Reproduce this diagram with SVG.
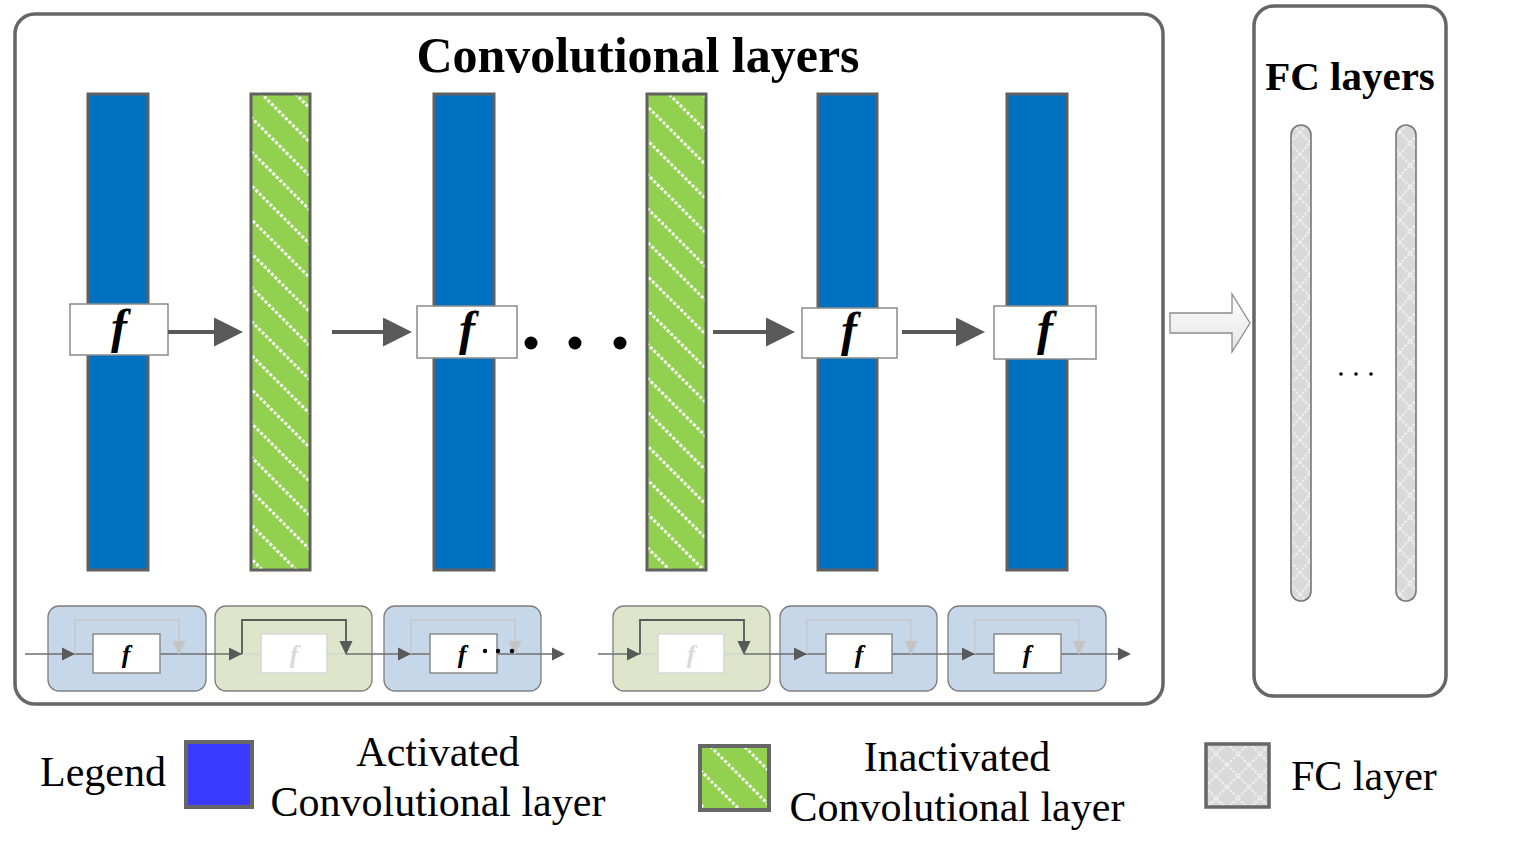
<svg xmlns="http://www.w3.org/2000/svg" xmlns:xlink="http://www.w3.org/1999/xlink" width="1523" height="842" viewBox="0 0 1523 842">
<style>
.frame{fill:#fff;stroke:#666;stroke-width:3.5}
.title{font-family:"Liberation Serif","Times New Roman",serif;font-weight:bold;fill:#000}
.bar{stroke:#606060;stroke-width:3}
.blue{fill:#0070c0}
.green{fill:url(#hatch)}
.fbox{fill:#fff;stroke:#8a8a8a;stroke-width:1.5}
.fbig{font-family:"Liberation Serif","Times New Roman",serif;font-weight:bold;font-style:italic;font-size:48px;text-anchor:middle;fill:#000}
.fsm{font-family:"Liberation Serif","Times New Roman",serif;font-weight:bold;font-style:italic;font-size:26px;text-anchor:middle;fill:#000}
.fsm.faded{fill:#dadada}
.conn{stroke:#595959;stroke-width:4;fill:none}
.ml{stroke:#707070;stroke-width:1.6;fill:none}
.mlf{stroke:#d4d4d4;stroke-width:1.6;fill:none}
.loopl{stroke:#c8c8c8;stroke-width:1.6;fill:none}
.loopd{stroke:#595959;stroke-width:1.8;fill:none}
.ahd{fill:#595959}
.ahl{fill:#c4c4c4}
.bblk{fill:#c5d7e9;stroke:#7f7f7f;stroke-width:1.3}
.gblk{fill:#dfe5cb;stroke:#7f7f7f;stroke-width:1.3}
.fbf{fill:#fff;stroke:#d6d6d6;stroke-width:1.5}
.leg{font-family:"Liberation Serif","Times New Roman",serif;font-size:42px;fill:#000}
.fc{fill:url(#cross);stroke:#777;stroke-width:1.6}
</style>
<defs>
<pattern id="hatch" patternUnits="userSpaceOnUse" width="5" height="24" patternTransform="rotate(45)">
<rect width="5" height="24" fill="#92d050"/>
<rect x="0" y="0" width="3" height="3" fill="#ffffff"/>
</pattern>
<pattern id="cross" patternUnits="userSpaceOnUse" width="20" height="22">
<rect width="20" height="22" fill="#d9d9d9"/>
<path d="M0,0 L20,22 M20,0 L0,22" stroke="#eeeeee" stroke-width="2.4" stroke-dasharray="2.5 1.5"/>
</pattern>
<pattern id="cross2" patternUnits="userSpaceOnUse" width="22" height="22" x="1205" y="743">
<rect width="22" height="22" fill="#d9d9d9"/>
<path d="M0,0 L22,22 M22,0 L0,22" stroke="#eeeeee" stroke-width="2.4" stroke-dasharray="2.5 1.5"/>
</pattern>
<marker id="big" markerUnits="userSpaceOnUse" markerWidth="30" markerHeight="30" refX="19" refY="14.5" orient="auto">
<path d="M0,0 L29,14.5 L0,29 z" fill="#595959"/>
</marker>
<path id="ar" d="M-13,-6.5 L0,0 L-13,6.5 z"/>
<path id="dn" d="M-6.5,-14 L0,0 L6.5,-14 z"/>
<linearGradient id="ga" x1="0" y1="0" x2="0" y2="1">
<stop offset="0" stop-color="#ffffff"/>
<stop offset="1" stop-color="#e4e4e4"/>
</linearGradient>
</defs>

<g id="conv-frame">
<rect class="frame" x="15" y="14" width="1148" height="690" rx="20"/>
<text class="title" x="638" y="72" font-size="50" text-anchor="middle">Convolutional layers</text>
</g>
<g id="fc-frame">
<rect class="frame" x="1254" y="6" width="192" height="690" rx="20"/>
<text class="title" x="1350" y="90" font-size="41" text-anchor="middle">FC layers</text>
</g>

<g id="bar1"><rect class="bar blue" x="88" y="94" width="60" height="476"/></g>
<g id="bar2"><rect class="bar green" x="251" y="94" width="59" height="476"/></g>
<g id="bar3"><rect class="bar blue" x="434" y="94" width="60" height="476"/></g>
<g id="bar4"><rect class="bar green" x="647" y="94" width="59" height="476"/></g>
<g id="bar5"><rect class="bar blue" x="818" y="94" width="59" height="476"/></g>
<g id="bar6"><rect class="bar blue" x="1007" y="94" width="60" height="476"/></g>

<g id="f1"><rect class="fbox" x="70" y="304" width="98" height="51"/><text class="fbig" x="119" y="343">f</text></g>
<g id="f2"><rect class="fbox" x="417" y="306" width="100" height="52"/><text class="fbig" x="467" y="345">f</text></g>
<g id="f3"><rect class="fbox" x="802" y="308" width="95" height="50"/><text class="fbig" x="849" y="346">f</text></g>
<g id="f4"><rect class="fbox" x="994" y="306" width="102" height="53"/><text class="fbig" x="1045" y="345">f</text></g>

<g id="connectors">
<line class="conn" x1="168" y1="332" x2="233" y2="332" marker-end="url(#big)"/>
<line class="conn" x1="332" y1="332" x2="402" y2="332" marker-end="url(#big)"/>
<line class="conn" x1="713" y1="332" x2="785" y2="332" marker-end="url(#big)"/>
<line class="conn" x1="902" y1="332" x2="975" y2="332" marker-end="url(#big)"/>
</g>
<g id="ellipsis">
<circle cx="531" cy="343" r="6.5" fill="#000"/>
<circle cx="575" cy="343" r="6.5" fill="#000"/>
<circle cx="620" cy="343" r="6.5" fill="#000"/>
</g>

<g id="big-arrow">
<path d="M1170,313 H1232 V294 L1250,323 L1232,352 V333 H1170 Z" fill="url(#ga)" stroke="#8c8c8c" stroke-width="1.3"/>
</g>

<g id="fc1"><rect class="fc" x="1291" y="125" width="20" height="476" rx="10"/></g>
<g id="fc2"><rect class="fc" x="1396" y="125" width="20" height="476" rx="10"/></g>
<g id="fc-dots">
<circle cx="1341" cy="374" r="1.8" fill="#000"/>
<circle cx="1356" cy="374" r="1.8" fill="#000"/>
<circle cx="1371" cy="374" r="1.8" fill="#000"/>
</g>

<g id="blk1"><rect class="bblk" x="48" y="606" width="158" height="85" rx="11"/></g>
<g id="blk2"><rect class="gblk" x="215" y="606" width="157" height="85" rx="11"/></g>
<g id="blk3"><rect class="bblk" x="384" y="606" width="157" height="85" rx="11"/></g>
<g id="blk4"><rect class="gblk" x="613" y="606" width="157" height="85" rx="11"/></g>
<g id="blk5"><rect class="bblk" x="780" y="606" width="157" height="85" rx="11"/></g>
<g id="blk6"><rect class="bblk" x="948" y="606" width="158" height="85" rx="11"/></g>

<g id="strip-connectors">
<path class="ml" d="M25,654 H242 M346,654 H555"/>
<path class="mlf" d="M242,654 H346"/>
<use href="#ar" x="565" y="654" class="ahd"/>
<path class="ml" d="M598,654 H640 M744,654 H1121"/>
<path class="mlf" d="M640,654 H744"/>
<use href="#ar" x="1131" y="654" class="ahd"/>
<path class="loopl" d="M75,654 V620 H179 V642"/>
<path class="loopd" d="M242,654 V620 H346 V642"/>
<path class="loopl" d="M411,654 V620 H515 V642"/>
<path class="loopd" d="M640,654 V620 H744 V642"/>
<path class="loopl" d="M807,654 V620 H911 V642"/>
<path class="loopl" d="M975,654 V620 H1079 V642"/>
<use href="#dn" x="179" y="655" class="ahl"/>
<use href="#dn" x="346" y="655" class="ahd"/>
<use href="#dn" x="515" y="655" class="ahl"/>
<use href="#dn" x="744" y="655" class="ahd"/>
<use href="#dn" x="911" y="655" class="ahl"/>
<use href="#dn" x="1079" y="655" class="ahl"/>
<use href="#ar" x="75" y="654" class="ahd"/>
<use href="#ar" x="242" y="654" class="ahd"/>
<use href="#ar" x="411" y="654" class="ahd"/>
<use href="#ar" x="640" y="654" class="ahd"/>
<use href="#ar" x="807" y="654" class="ahd"/>
<use href="#ar" x="975" y="654" class="ahd"/>
</g>

<g id="sf1"><rect class="fbox" x="93" y="634" width="67" height="39"/><text class="fsm" x="126" y="663">f</text></g>
<g id="sf2"><rect class="fbf" x="261" y="634" width="66" height="39"/><text class="fsm faded" x="294" y="663">f</text></g>
<g id="sf3"><rect class="fbox" x="430" y="634" width="67" height="39"/><text class="fsm" x="462" y="663">f</text>
<circle cx="485" cy="651" r="2.2" fill="#000"/><circle cx="498" cy="651" r="2.2" fill="#000"/><circle cx="512" cy="651" r="2.2" fill="#000"/></g>
<g id="sf4"><rect class="fbf" x="658" y="634" width="66" height="39"/><text class="fsm faded" x="691" y="663">f</text></g>
<g id="sf5"><rect class="fbox" x="826" y="634" width="66" height="39"/><text class="fsm" x="859" y="663">f</text></g>
<g id="sf6"><rect class="fbox" x="994" y="634" width="67" height="39"/><text class="fsm" x="1027" y="663">f</text></g>

<g id="legend">
<text class="leg" x="40" y="786">Legend</text>
<rect x="186" y="742" width="66" height="65" fill="#3a3aff" stroke="#666" stroke-width="4"/>
<text class="leg" x="438" y="766" text-anchor="middle">Activated</text>
<text class="leg" x="438" y="816" text-anchor="middle">Convolutional layer</text>
<rect x="700" y="746" width="69" height="64" fill="url(#hatch)" stroke="#666" stroke-width="4"/>
<text class="leg" x="957" y="771" text-anchor="middle">Inactivated</text>
<text class="leg" x="957" y="821" text-anchor="middle">Convolutional layer</text>
<rect x="1206" y="744" width="63" height="63" fill="url(#cross2)" stroke="#666" stroke-width="3.5"/>
<text class="leg" x="1291" y="790">FC layer</text>
</g>
</svg>
